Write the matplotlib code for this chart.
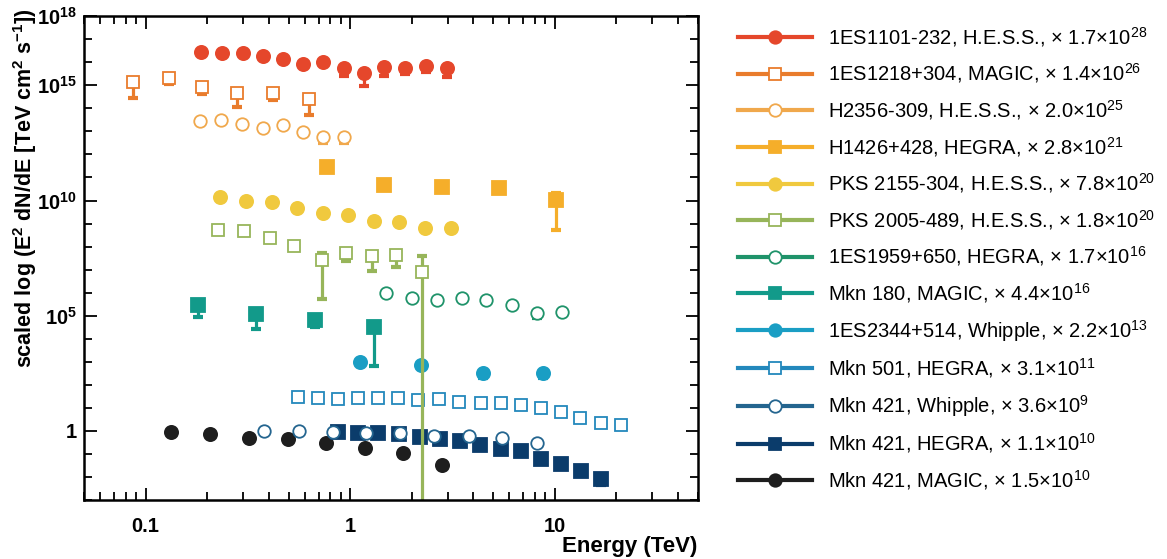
import numpy as np
import matplotlib.pyplot as plt
from matplotlib.lines import Line2D
from matplotlib.ticker import FixedLocator, FixedFormatter, LogLocator, NullFormatter

plt.rcParams['font.family'] = ['Liberation Sans', 'DejaVu Sans']
plt.rcParams['mathtext.fontset'] = 'custom'
plt.rcParams['mathtext.rm'] = 'Liberation Sans'
plt.rcParams['mathtext.bf'] = 'Liberation Sans:bold'
plt.rcParams['mathtext.it'] = 'Liberation Sans:italic'
plt.rcParams['mathtext.default'] = 'regular'

# energies in TeV, scaled E^2 dN/dE; lo/hi = error bar length in dex (0 = none)

# 1ES1101-232, H.E.S.S.
e_1101 = [0.187, 0.237, 0.299, 0.373, 0.468, 0.585, 0.733, 0.935, 1.17, 1.47, 1.85, 2.34, 2.96]
f_1101 = [2.9e16, 2.6e16, 2.5e16, 1.9e16, 1.4e16, 8.1e15, 1.05e16, 5.4e15, 3.5e15, 6.3e15, 5.8e15, 7.1e15, 5.4e15]
lo_1101 = [0, 0, 0, 0, 0, 0, 0, 0.33, 0.58, 0.40, 0.27, 0.26, 0.39]

# 1ES1218+304, MAGIC
e_1218 = [0.0867, 0.130, 0.188, 0.279, 0.418, 0.627]
f_1218 = [1.4e15, 2.1e15, 8.1e14, 4.5e14, 4.8e14, 2.5e14]
lo_1218 = [0.69, 0.28, 0.30, 0.58, 0.32, 0.68]

# H2356-309, H.E.S.S.
e_2356 = [0.185, 0.234, 0.296, 0.373, 0.468, 0.585, 0.733, 0.935]
f_2356 = [2.9e13, 3.1e13, 2.1e13, 1.35e13, 1.9e13, 9.5e12, 5.9e12, 5.9e12]
lo_2356 = [0, 0, 0, 0, 0, 0, 0.29, 0.29]

# H1426+428, HEGRA
e_1426 = [0.774, 1.47, 2.80, 5.34, 10.1]
f_1426 = [2.95e11, 4.7e10, 4.0e10, 3.4e10, 1.05e10]
lo_1426 = [0, 0, 0, 0, 1.3]
hi_1426 = [0, 0, 0, 0, 0.29]

# PKS 2155-304, H.E.S.S.
e_2155 = [0.232, 0.310, 0.415, 0.549, 0.733, 0.971, 1.31, 1.73, 2.31, 3.10]
f_2155 = [1.45e10, 9.5e9, 8.9e9, 4.9e9, 2.75e9, 2.35e9, 1.3e9, 1.2e9, 6.2e8, 6.2e8]

# PKS 2005-489, H.E.S.S.
e_2005 = [0.227, 0.302, 0.406, 0.533, 0.728, 0.953, 1.28, 1.67, 2.25]
f_2005 = [5.2e8, 4.8e8, 2.45e8, 1.07e8, 2.6e7, 5.1e7, 3.9e7, 4.4e7, 8.1e6]
lo_2005 = [0, 0, 0, 0, 1.71, 0.33, 0.64, 0.51, 12]
hi_2005 = [0, 0, 0, 0, 0.30, 0, 0, 0, 0.70]

# 1ES1959+650, HEGRA
e_1959 = [1.49, 2.00, 2.65, 3.53, 4.63, 6.15, 8.20, 10.8]
f_1959 = [9.3e5, 5.75e5, 4.8e5, 6.0e5, 4.8e5, 2.95e5, 1.3e5, 1.4e5]
lo_1959 = [0, 0, 0, 0, 0, 0, 0.2, 0]

# Mkn 180, MAGIC
e_180 = [0.180, 0.347, 0.675, 1.31]
f_180 = [2.95e5, 1.2e5, 6.6e4, 3.3e4]
lo_180 = [0.54, 0.67, 0.32, 1.7]
hi_180 = [0, 0, 0, 0.22]

# 1ES2344+514, Whipple
e_2344 = [1.11, 2.21, 4.46, 8.77]
f_2344 = [1.0e3, 7.2e2, 3.4e2, 3.4e2]
lo_2344 = [0, 0, 0.24, 0.24]

# Mkn 501, HEGRA
e_501 = [0.557, 0.692, 0.867, 1.09, 1.36, 1.72, 2.15, 2.72, 3.40, 4.34, 5.44, 6.81, 8.58, 10.7, 13.3, 16.9, 21.1]
f_501 = [31, 27.5, 24.5, 27.5, 26.3, 26.3, 21.9, 24, 18.6, 17, 17, 13.5, 9.5, 6.9, 3.5, 2.3, 1.8]

# Mkn 421, Whipple
e_421w = [0.380, 0.560, 0.820, 1.19, 1.75, 2.57, 3.81, 5.53, 8.20]
f_421w = [1.0, 1.0, 0.93, 0.79, 0.79, 0.60, 0.60, 0.48, 0.30]

# Mkn 421, HEGRA
e_421h = [0.873, 1.09, 1.37, 1.73, 2.19, 2.74, 3.43, 4.29, 5.44, 6.81, 8.58, 10.7, 13.4, 16.9]
f_421h = [0.93, 0.85, 0.79, 0.71, 0.54, 0.44, 0.35, 0.25, 0.16, 0.13, 0.059, 0.037, 0.019, 0.0079]
lo_421h = [0, 0, 0, 0, 0, 0, 0, 0, 0, 0, 0, 0, 0, 0.25]

# Mkn 421, MAGIC
e_421m = [0.133, 0.207, 0.319, 0.494, 0.765, 1.18, 1.81, 2.82]
f_421m = [0.93, 0.72, 0.51, 0.44, 0.31, 0.18, 0.11, 0.033]

labels = [
    '1ES1101-232, H.E.S.S., × 1.7×10$^{28}$',
    '1ES1218+304, MAGIC, × 1.4×10$^{26}$',
    'H2356-309, H.E.S.S., × 2.0×10$^{25}$',
    'H1426+428, HEGRA, × 2.8×10$^{21}$',
    'PKS 2155-304, H.E.S.S., × 7.8×10$^{20}$',
    'PKS 2005-489, H.E.S.S., × 1.8×10$^{20}$',
    '1ES1959+650, HEGRA, × 1.7×10$^{16}$',
    'Mkn 180, MAGIC, × 4.4×10$^{16}$',
    '1ES2344+514, Whipple, × 2.2×10$^{13}$',
    'Mkn 501, HEGRA, × 3.1×10$^{11}$',
    'Mkn 421, Whipple, × 3.6×10$^{9}$',
    'Mkn 421, HEGRA, × 1.1×10$^{10}$',
    'Mkn 421, MAGIC, × 1.5×10$^{10}$',
]
colors = ['#E5472B', '#E97C2C', '#F0A84C', '#F5AE2A', '#F0C93E', '#97B55A', '#1F936A',
          '#129A8A', '#1A9EC4', '#2388BC', '#24658F', '#0B3C6B', '#1E1E1E']
markers = ['o', 's', 'o', 's', 'o', 's', 'o', 's', 'o', 's', 'o', 's', 'o']
filled = [True, False, False, True, True, False, False, True, True, False, False, True, True]


def draw_errors(ax, e, f, d, sign, c):
    # one bar per point, from the point to its end, with a short thick cap
    if d is None:
        return
    for x, y, k in zip(e, f, d):
        if k == 0:
            continue
        end = y * 10.0 ** (sign * k)
        ax.plot([x, x], [y, end], color=c, lw=2.3, solid_capstyle='butt')
        ax.plot([x], [end], marker='_', ms=6.5, mew=3.0, color=c)


def main():
    series = [
        (e_1101, f_1101, lo_1101, None),
        (e_1218, f_1218, lo_1218, None),
        (e_2356, f_2356, lo_2356, None),
        (e_1426, f_1426, lo_1426, hi_1426),
        (e_2155, f_2155, None, None),
        (e_2005, f_2005, lo_2005, hi_2005),
        (e_1959, f_1959, lo_1959, None),
        (e_180, f_180, lo_180, hi_180),
        (e_2344, f_2344, lo_2344, None),
        (e_501, f_501, None, None),
        (e_421w, f_421w, None, None),
        (e_421h, f_421h, lo_421h, None),
        (e_421m, f_421m, None, None),
    ]

    fig = plt.figure(figsize=(11.67, 5.59), dpi=100)
    ax = fig.add_axes([0.072, 0.1055, 0.526, 0.8655])

    # draw bottom series first so the top ones sit over them
    for i in reversed(range(len(series))):
        e, f, lo, hi = series[i]
        c = colors[i]
        draw_errors(ax, e, f, lo, -1, c)
        draw_errors(ax, e, f, hi, 1, c)
        ax.plot(e, f, ls='none', marker=markers[i], ms=9.5 if filled[i] else 9,
                mfc=c if filled[i] else 'white', mec=c, mew=1.3)

    ax.set_xscale('log')
    ax.set_yscale('log')
    ax.set_xlim(0.05, 50)
    ax.set_ylim(1e-3, 1e18)

    ax.xaxis.set_major_locator(FixedLocator([0.1, 1, 10]))
    ax.xaxis.set_major_formatter(FixedFormatter(['0.1', '1', '10']))
    ax.xaxis.set_minor_locator(LogLocator(base=10, subs=np.arange(2, 10), numticks=20))
    ax.xaxis.set_minor_formatter(NullFormatter())

    ax.yaxis.set_major_locator(FixedLocator([1, 1e5, 1e10, 1e15, 1e18]))
    ax.yaxis.set_major_formatter(FixedFormatter(['1', r'10$^{\mathbf{5}}$', r'10$^{\mathbf{10}}$',
                                                 r'10$^{\mathbf{15}}$', r'10$^{\mathbf{18}}$']))
    ax.yaxis.set_minor_locator(FixedLocator([10.0 ** k for k in range(-3, 19)]))
    ax.yaxis.set_minor_formatter(NullFormatter())

    ax.tick_params(which='both', direction='in', top=True, right=True, width=1.3)
    ax.tick_params(which='major', length=9, labelsize=14.5)
    ax.tick_params(axis='x', which='major', pad=12)
    ax.tick_params(axis='y', which='major', pad=5)
    ax.tick_params(which='minor', length=6)
    for lab in ax.get_xticklabels() + ax.get_yticklabels():
        lab.set_fontweight('bold')
    for sp in ax.spines.values():
        sp.set_linewidth(1.8)

    ax.set_xlabel('Energy (TeV)', fontsize=16, fontweight='bold', loc='right', labelpad=0)
    ax.set_ylabel(r'scaled log (E$^{\mathbf{2}}$ dN/dE [TeV cm$^{\mathbf{2}}$ s$^{\mathbf{-1}}$])',
                  fontsize=15.5, fontweight='bold')
    ax.yaxis.set_label_coords(-0.073, 0.645)

    handles = []
    for i in range(len(labels)):
        c = colors[i]
        handles.append(Line2D([], [], color=c, lw=3, marker=markers[i], ms=9,
                              mfc=c if filled[i] else 'white', mec=c, mew=1.3))
    fig.legend(handles, labels, loc='upper left', bbox_to_anchor=(738 / 1167, 1 - 25 / 559),
               frameon=False, fontsize=14.5, handlelength=3.68, handletextpad=0.8,
               labelspacing=0.63, borderpad=0, borderaxespad=0)

    fig.savefig('out.png', dpi=100)


if __name__ == '__main__':
    main()
